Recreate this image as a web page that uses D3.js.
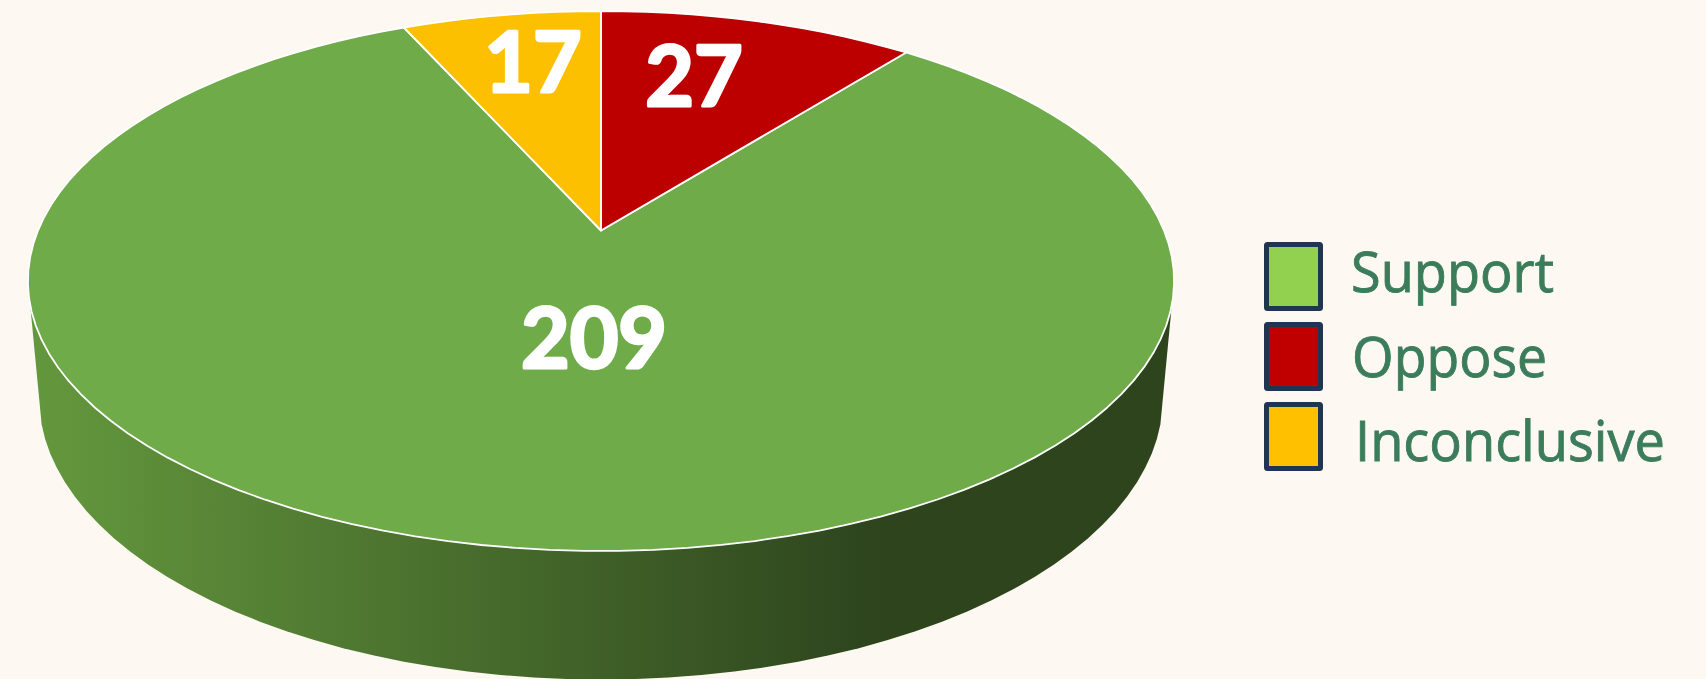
<!DOCTYPE html>
<html>
<head>
<meta charset="utf-8">
<title>Support, oppose, inconclusive</title>
<script src="https://cdnjs.cloudflare.com/ajax/libs/d3/7.8.5/d3.min.js"></script>
<style>
	html, body {margin: 0; padding: 0; background: #fdf8f1; overflow: hidden;}
	svg {display: block;}
	text {text-rendering: geometricPrecision;}
	.value {font-family: Lato, sans-serif; font-weight: 700; fill: #fff; stroke: #fff; stroke-width: 3px; stroke-linejoin: round; text-anchor: middle;}
	.legendLabel {font-family: "Open Sans", sans-serif; fill: #3b7d5b; stroke: #3b7d5b; stroke-width: 0.9px;}
</style>
</head>
<body>
<script>
//chart values
var categories = ["Support", "Oppose", "Inconclusive"];
var values = [209, 27, 17];
var faceColors = ["#6fab48", "#bc0000", "#fdc000"];
var legendColors = ["#92d050", "#c00000", "#ffc000"];
//clockwise from twelve o'clock
var sliceOrder = ["Oppose", "Support", "Inconclusive"];

//page frame dimensions
var width = 1706,
	height = 679;

var svg = d3.select("body")
	.append("svg")
	.attr("width", width)
	.attr("height", height);

//perspective projection of a circle, angle 0 at the back of the pie
var k = 0.187;
function rim(a, b, y0){
	return function(angle){
		var u = Math.sin(angle),
			v = -Math.cos(angle),
			w = 1 - k * v;
		return [601 + a * u / w, y0 + b * v / w];
	};
}
var topRim = rim(563, 260.5, 230.5),
	bottomRim = rim(552, 272, 345);

var line = d3.line();

//slices from d3 pie
var pie = d3.pie()
	.value(function(d){ return d.value; })
	.sort(function(a, b){ return sliceOrder.indexOf(a.name) - sliceOrder.indexOf(b.name); });

var slices = pie(categories.map(function(name, i){
	return {name: name, value: values[i], color: faceColors[i]};
}));

//side wall gradient
var grad = svg.append("defs").append("linearGradient")
	.attr("id", "wallGradient")
	.attr("gradientUnits", "userSpaceOnUse")
	.attr("x1", 30).attr("x2", 880)
	.attr("y1", 0).attr("y2", 0);
grad.append("stop").attr("offset", 0).attr("stop-color", "#64983d");
grad.append("stop").attr("offset", 1).attr("stop-color", "#2d441d");

//side wall, runs along the near half of the rim
var wallStart = Math.PI - 1.295,
	wallEnd = Math.PI + 1.295,
	floorStart = Math.PI - 1.29,
	floorSteps = 52;
var bottomAngles = d3.range(0, floorSteps + 1).map(function(i){
	return floorStart + (2 * Math.PI - 2 * floorStart) * i / floorSteps;
});
var wallPoints = [topRim(wallStart)]
	.concat(bottomAngles.map(bottomRim))
	.concat([topRim(wallEnd)]);

svg.append("path")
	.attr("class", "wall")
	.attr("d", line(wallPoints) + "Z")
	.attr("fill", "url(#wallGradient)");

//top face slices, lightly faceted rim like the original
function slicePath(d){
	var n = Math.max(4, Math.ceil((d.endAngle - d.startAngle) / 0.05));
	var pts = d3.range(0, n + 1).map(function(i){
		return topRim(d.startAngle + (d.endAngle - d.startAngle) * i / n);
	});
	return line([[601, 230.5]].concat(pts)) + "Z";
}

svg.selectAll(".slice")
	.data(slices)
	.enter()
	.append("path")
	.attr("class", function(d){ return "slice " + d.data.name; })
	.attr("d", slicePath)
	.attr("fill", function(d){ return d.data.color; })
	.attr("stroke", "#fff")
	.attr("stroke-width", 1.8)
	.attr("stroke-linejoin", "round");

//value labels
var labelSpots = {Support: [594, 368], Oppose: [694, 106], Inconclusive: [533, 92]};
svg.selectAll(".value")
	.data(slices)
	.enter()
	.append("text")
	.attr("class", "value")
	.attr("x", function(d){ return labelSpots[d.data.name][0]; })
	.attr("y", function(d){ return labelSpots[d.data.name][1]; })
	.attr("font-size", 84)
	.text(function(d){ return d.value; });

//legend
var legendY = d3.scaleOrdinal()
	.domain(categories)
	.range([244.5, 324.5, 404.5]);
var legendBaseline = d3.scaleOrdinal()
	.domain(categories)
	.range([292, 377, 461]);
var legendX = d3.scaleOrdinal()
	.domain(categories)
	.range([1351, 1352, 1355]);
var legendWidth = d3.scaleOrdinal()
	.domain(categories)
	.range([203, 195, 310]);

var legend = svg.selectAll(".legendItem")
	.data(categories)
	.enter()
	.append("g")
	.attr("class", "legendItem");

legend.append("rect")
	.attr("x", 1266.5)
	.attr("y", function(d){ return legendY(d); })
	.attr("width", 54)
	.attr("height", 64)
	.attr("rx", 1)
	.attr("fill", function(d, i){ return legendColors[i]; })
	.attr("stroke", "#1f3552")
	.attr("stroke-width", 5);

legend.append("text")
	.attr("class", "legendLabel")
	.attr("x", function(d){ return legendX(d); })
	.attr("y", function(d){ return legendBaseline(d); })
	.attr("font-size", 56)
	.attr("textLength", function(d){ return legendWidth(d); })
	.attr("lengthAdjust", "spacingAndGlyphs")
	.text(function(d){ return d; });
</script>
</body>
</html>
